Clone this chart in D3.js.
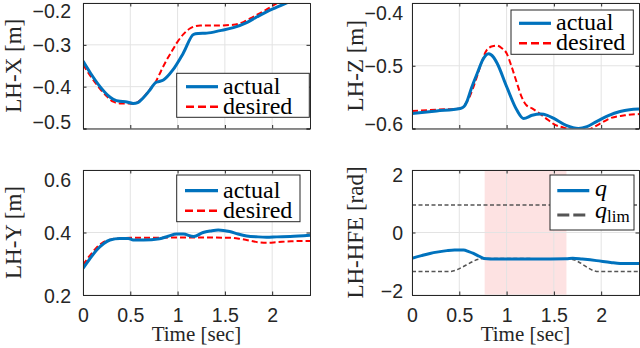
<!DOCTYPE html>
<html><head><meta charset="utf-8">
<script src="https://cdn.jsdelivr.net/npm/d3@7"></script>
<style>html,body{margin:0;padding:0;background:#fff;}svg{display:block;}</style>
</head><body>
<svg id="chart" width="640" height="348"></svg>
<script>
// ---------- DATA ----------
const xTicks = [0, 0.5, 1, 1.5, 2];
const xTickLabels = ["0", "0.5", "1", "1.5", "2"];

const lhxTime    = [0,0.08,0.18,0.26,0.32,0.39,0.45,0.53,0.58,0.64,0.70,0.77,0.80,0.85,0.95,1.06,1.17,1.22,1.31,1.45,1.59,1.73,1.84,1.94,2.05,2.16,2.30,2.40];
const lhxActual  = [-0.339,-0.368,-0.400,-0.420,-0.430,-0.435,-0.436,-0.440,-0.438,-0.426,-0.410,-0.390,-0.388,-0.384,-0.360,-0.320,-0.275,-0.273,-0.272,-0.266,-0.259,-0.247,-0.233,-0.221,-0.210,-0.199,-0.185,-0.175];
const lhxDesTime = [0,0.08,0.18,0.26,0.32,0.39,0.45,0.53,0.58,0.64,0.70,0.77,0.83,0.885,0.94,0.99,1.06,1.13,1.18,1.24,1.40,1.59,1.70,1.80,1.93,2.06,2.20,2.40];
const lhxDesired = [-0.347,-0.375,-0.405,-0.425,-0.436,-0.440,-0.440,-0.441,-0.437,-0.425,-0.408,-0.388,-0.360,-0.336,-0.315,-0.296,-0.275,-0.261,-0.256,-0.254,-0.254,-0.252,-0.245,-0.233,-0.217,-0.199,-0.180,-0.155];
const lhxTicks   = [-0.5, -0.4, -0.3, -0.2];

const lhzTime    = [0,0.26,0.51,0.55,0.58,0.63,0.69,0.75,0.81,0.86,0.90,1.00,1.11,1.18,1.27,1.36,1.43,1.50,1.63,1.76,1.85,1.95,2.07,2.20,2.30,2.40];
const lhzActual  = [-0.576,-0.572,-0.568,-0.565,-0.557,-0.535,-0.512,-0.490,-0.481,-0.486,-0.496,-0.533,-0.571,-0.584,-0.579,-0.577,-0.579,-0.584,-0.595,-0.600,-0.597,-0.589,-0.580,-0.573,-0.570,-0.569];
const lhzDesTime = [0,0.26,0.51,0.56,0.61,0.67,0.72,0.79,0.85,0.90,0.95,1.00,1.05,1.11,1.16,1.21,1.27,1.32,1.41,1.50,1.64,1.75,1.88,1.98,2.09,2.25,2.40];
const lhzDesired = [-0.572,-0.570,-0.568,-0.562,-0.549,-0.525,-0.502,-0.475,-0.469,-0.468,-0.472,-0.480,-0.500,-0.528,-0.550,-0.563,-0.568,-0.573,-0.583,-0.593,-0.600,-0.604,-0.601,-0.593,-0.584,-0.579,-0.577];
const lhzTicks   = [-0.6, -0.5, -0.4];

const lhyTime    = [0,0.07,0.145,0.22,0.285,0.39,0.48,0.53,0.64,0.81,0.90,0.99,1.06,1.17,1.27,1.35,1.43,1.55,1.64,1.73,1.85,1.94,2.05,2.19,2.40];
const lhyActual  = [0.285,0.315,0.344,0.365,0.376,0.381,0.381,0.376,0.376,0.380,0.388,0.395,0.395,0.387,0.400,0.405,0.408,0.403,0.395,0.389,0.386,0.385,0.386,0.387,0.391];
const lhyDesTime = [0,0.07,0.145,0.22,0.30,0.40,0.50,0.70,1.00,1.30,1.55,1.65,1.73,1.85,1.94,2.05,2.20,2.40];
const lhyDesired = [0.296,0.325,0.352,0.370,0.378,0.382,0.383,0.383,0.384,0.384,0.383,0.380,0.376,0.369,0.367,0.369,0.372,0.373];
const lhyTicks   = [0.2, 0.4, 0.6];

const hfeTime    = [0,0.10,0.19,0.28,0.37,0.45,0.545,0.60,0.65,0.71,0.76,0.90,1.00,1.30,1.63,1.70,1.80,1.95,2.10,2.20,2.40];
const hfeQ       = [-0.826,-0.74,-0.67,-0.62,-0.58,-0.56,-0.56,-0.61,-0.67,-0.76,-0.83,-0.85,-0.85,-0.85,-0.84,-0.82,-0.85,-0.90,-0.96,-0.99,-0.99];
const hfeUpperTime = [0, 2.4];
const hfeUpperLim  = [0.88, 0.88];
const hfeLowerTime = [0, 0.387, 0.76, 1.67, 1.97, 2.4];
const hfeLowerLim  = [-1.25, -1.25, -0.83, -0.85, -1.25, -1.25];
const hfeShade     = [0.768, 1.633];
const hfeTicks     = [-2, 0, 2];

// ---------- LAYOUT / STYLE ----------
const svg = d3.select("#chart");
const BLUE = "#0072BD", RED = "#FF0000", GRAY = "#555555", AX = "#262626", GRID = "#e3e3e3";
const serif = "'Liberation Serif','Times New Roman',serif";
const sans = "'Liberation Sans',Arial,Helvetica,sans-serif";

const zip = (t, v) => t.map((d, i) => [d, v[i]]);

const panels = [
  { id: "tl", x0: 83, x1: 310, y0: 3, y1: 128.5, ydom: [-0.5, -0.2], ticks: lhxTicks, fmt: ".1f",
    ylabel: "LH-X [m]", ylabX: 13, labEnd: 71, edgeShift: [8, -7], xlabels: false,
    series: [
      { data: zip(lhxDesTime, lhxDesired), color: RED, width: 2, dash: "6,3" },
      { data: zip(lhxTime, lhxActual), color: BLUE, width: 3, dash: null }
    ],
    legend: { x: 176.7, y: 73.3, w: 132.6, h: 44, sx0: 186, sx1: 218, tx: 223, rows: [86.7, 106.7],
      items: [{ label: "actual", color: BLUE, width: 3.2, dash: null }, { label: "desired", color: RED, width: 2.5, dash: "8,4" }] } },
  { id: "tr", x0: 412, x1: 639, y0: 3, y1: 128.5, ydom: [-0.6, -0.4], ticks: lhzTicks, fmt: ".1f",
    ylabel: "LH-Z [m]", ylabX: 355, labEnd: 403, edgeShift: [9.5, -5], xlabels: false,
    series: [
      { data: zip(lhzDesTime, lhzDesired), color: RED, width: 2, dash: "6,3" },
      { data: zip(lhzTime, lhzActual), color: BLUE, width: 3, dash: null }
    ],
    legend: { x: 511, y: 10, w: 122.3, h: 44.3, sx0: 519, sx1: 551, tx: 556, rows: [23.3, 43.3],
      items: [{ label: "actual", color: BLUE, width: 3.2, dash: null }, { label: "desired", color: RED, width: 2.5, dash: "8,4" }] } },
  { id: "bl", x0: 83, x1: 310, y0: 170, y1: 295, ydom: [0.2, 0.6], ticks: lhyTicks, fmt: ".1f",
    ylabel: "LH-Y [m]", ylabX: 13, labEnd: 71, edgeShift: [10, 1], xlabels: true,
    series: [
      { data: zip(lhyDesTime, lhyDesired), color: RED, width: 2, dash: "6,3" },
      { data: zip(lhyTime, lhyActual), color: BLUE, width: 3, dash: null }
    ],
    legend: { x: 176.7, y: 175, w: 123.3, h: 46.7, sx0: 185, sx1: 218, tx: 223, rows: [190.7, 210.7],
      items: [{ label: "actual", color: BLUE, width: 3.2, dash: null }, { label: "desired", color: RED, width: 2.5, dash: "8,4" }] } },
  { id: "br", x0: 412, x1: 639, y0: 170, y1: 295, ydom: [-2, 2], ticks: hfeTicks, fmt: "d",
    ylabel: "LH-HFE [rad]", ylabX: 355, labEnd: 403, edgeShift: [5, -4], xlabels: true, shade: hfeShade,
    series: [
      { data: zip(hfeUpperTime, hfeUpperLim), color: GRAY, width: 1.5, dash: "4,2.5" },
      { data: zip(hfeLowerTime, hfeLowerLim), color: GRAY, width: 1.5, dash: "4,2.5" },
      { data: zip(hfeTime, hfeQ), color: BLUE, width: 3, dash: null }
    ],
    legend: { x: 550, y: 175, w: 84, h: 55, sx0: 557.3, sx1: 589.3, tx: 595, rows: [190.7, 215],
      items: [{ label: "q", color: BLUE, width: 3.2, dash: null }, { label: "q_lim", color: GRAY, width: 3, dash: "12,4" }] } }
];

panels.forEach(p => {
  const x = d3.scaleLinear().domain([0, 2.4]).range([p.x0, p.x1]);
  const y = d3.scaleLinear().domain(p.ydom).range([p.y1, p.y0]);
  const g = svg.append("g");

  g.append("defs").append("clipPath").attr("id", "clip-" + p.id)
    .append("rect").attr("x", p.x0).attr("y", p.y0).attr("width", p.x1 - p.x0).attr("height", p.y1 - p.y0);

  g.append("rect").attr("x", p.x0).attr("y", p.y0).attr("width", p.x1 - p.x0).attr("height", p.y1 - p.y0).attr("fill", "#fff");

  if (p.shade) {
    g.append("rect").attr("x", x(p.shade[0])).attr("y", p.y0)
      .attr("width", x(p.shade[1]) - x(p.shade[0])).attr("height", p.y1 - p.y0)
      .attr("fill", "#fde2e2");
  }

  // grid
  const grid = g.append("g").attr("stroke", GRID).attr("stroke-width", 1);
  xTicks.forEach(t => grid.append("line").attr("x1", x(t)).attr("x2", x(t)).attr("y1", p.y0).attr("y2", p.y1));
  p.ticks.forEach(t => grid.append("line").attr("x1", p.x0).attr("x2", p.x1).attr("y1", y(t)).attr("y2", y(t)));

  // series
  const line = d3.line().x(d => x(d[0])).y(d => y(d[1])).curve(d3.curveMonotoneX);
  const sg = g.append("g").attr("clip-path", "url(#clip-" + p.id + ")");
  p.series.forEach(s => {
    sg.append("path").attr("d", line(s.data)).attr("fill", "none")
      .attr("stroke", s.color).attr("stroke-width", s.width)
      .attr("stroke-dasharray", s.dash).attr("stroke-linejoin", "round");
  });

  // axes with inward ticks (box on)
  const tl = 3.5;
  const axL = g.append("g").attr("transform", `translate(${p.x0},0)`)
    .call(d3.axisLeft(y).tickValues(p.ticks).tickSize(-tl).tickFormat(d3.format(p.fmt)));
  const axR = g.append("g").attr("transform", `translate(${p.x1},0)`)
    .call(d3.axisRight(y).tickValues(p.ticks).tickSize(-tl).tickFormat(""));
  const axB = g.append("g").attr("transform", `translate(0,${p.y1})`)
    .call(d3.axisBottom(x).tickValues(xTicks).tickSize(-tl).tickFormat((d, i) => p.xlabels ? xTickLabels[i] : ""));
  const axT = g.append("g").attr("transform", `translate(0,${p.y0})`)
    .call(d3.axisTop(x).tickValues(xTicks).tickSize(-tl).tickFormat(""));
  [axL, axR, axB, axT].forEach(a => {
    a.select(".domain").attr("stroke", AX).attr("stroke-width", 1);
    a.selectAll(".tick line").attr("stroke", AX).attr("stroke-width", 1);
    a.selectAll("text").attr("fill", AX).style("font-family", sans).style("font-size", "19.5px");
  });
  // y tick labels: right aligned, edge labels shifted into the box as in the reference
  const n = p.ticks.length;
  axL.selectAll(".tick text")
    .attr("x", p.labEnd - p.x0)
    .attr("dy", "0.35em")
    .attr("transform", (d, i) => i === n - 1 ? `translate(0,${p.edgeShift[0]})` : (i === 0 ? `translate(0,${p.edgeShift[1]})` : null));
  axB.selectAll(".tick text").attr("y", 13).attr("dy", "0.71em");

  // y label
  g.append("text").attr("transform", `translate(${p.ylabX},${(p.y0 + p.y1) / 2}) rotate(-90)`)
    .attr("text-anchor", "middle").attr("dominant-baseline", "central")
    .style("font-family", serif).style("font-size", "23px").attr("fill", AX).text(p.ylabel);

  if (p.xlabels) {
    g.append("text").attr("x", (p.x0 + p.x1) / 2).attr("y", 341).attr("text-anchor", "middle")
      .style("font-family", serif).style("font-size", "21px").attr("fill", AX).text("Time [sec]");
  }

  // legend
  const L = p.legend;
  const lg = g.append("g");
  lg.append("rect").attr("x", L.x).attr("y", L.y).attr("width", L.w).attr("height", L.h)
    .attr("fill", "#fff").attr("stroke", AX).attr("stroke-width", 1);
  L.items.forEach((it, i) => {
    const ry = L.rows[i];
    lg.append("line").attr("x1", L.sx0).attr("x2", L.sx1).attr("y1", ry).attr("y2", ry)
      .attr("stroke", it.color).attr("stroke-width", it.width).attr("stroke-dasharray", it.dash);
    const t = lg.append("text").attr("x", L.tx).attr("y", ry + 7)
      .style("font-family", serif).style("font-size", "24px").attr("fill", "#000");
    if (it.label === "q") {
      t.attr("y", ry + 5).append("tspan").style("font-style", "italic").text("q");
    } else if (it.label === "q_lim") {
      t.attr("y", ry + 3);
      t.append("tspan").style("font-style", "italic").text("q");
      t.append("tspan").attr("dy", 4).style("font-size", "17px").text("lim");
    } else {
      t.text(it.label);
    }
  });
});
</script>
</body></html>
